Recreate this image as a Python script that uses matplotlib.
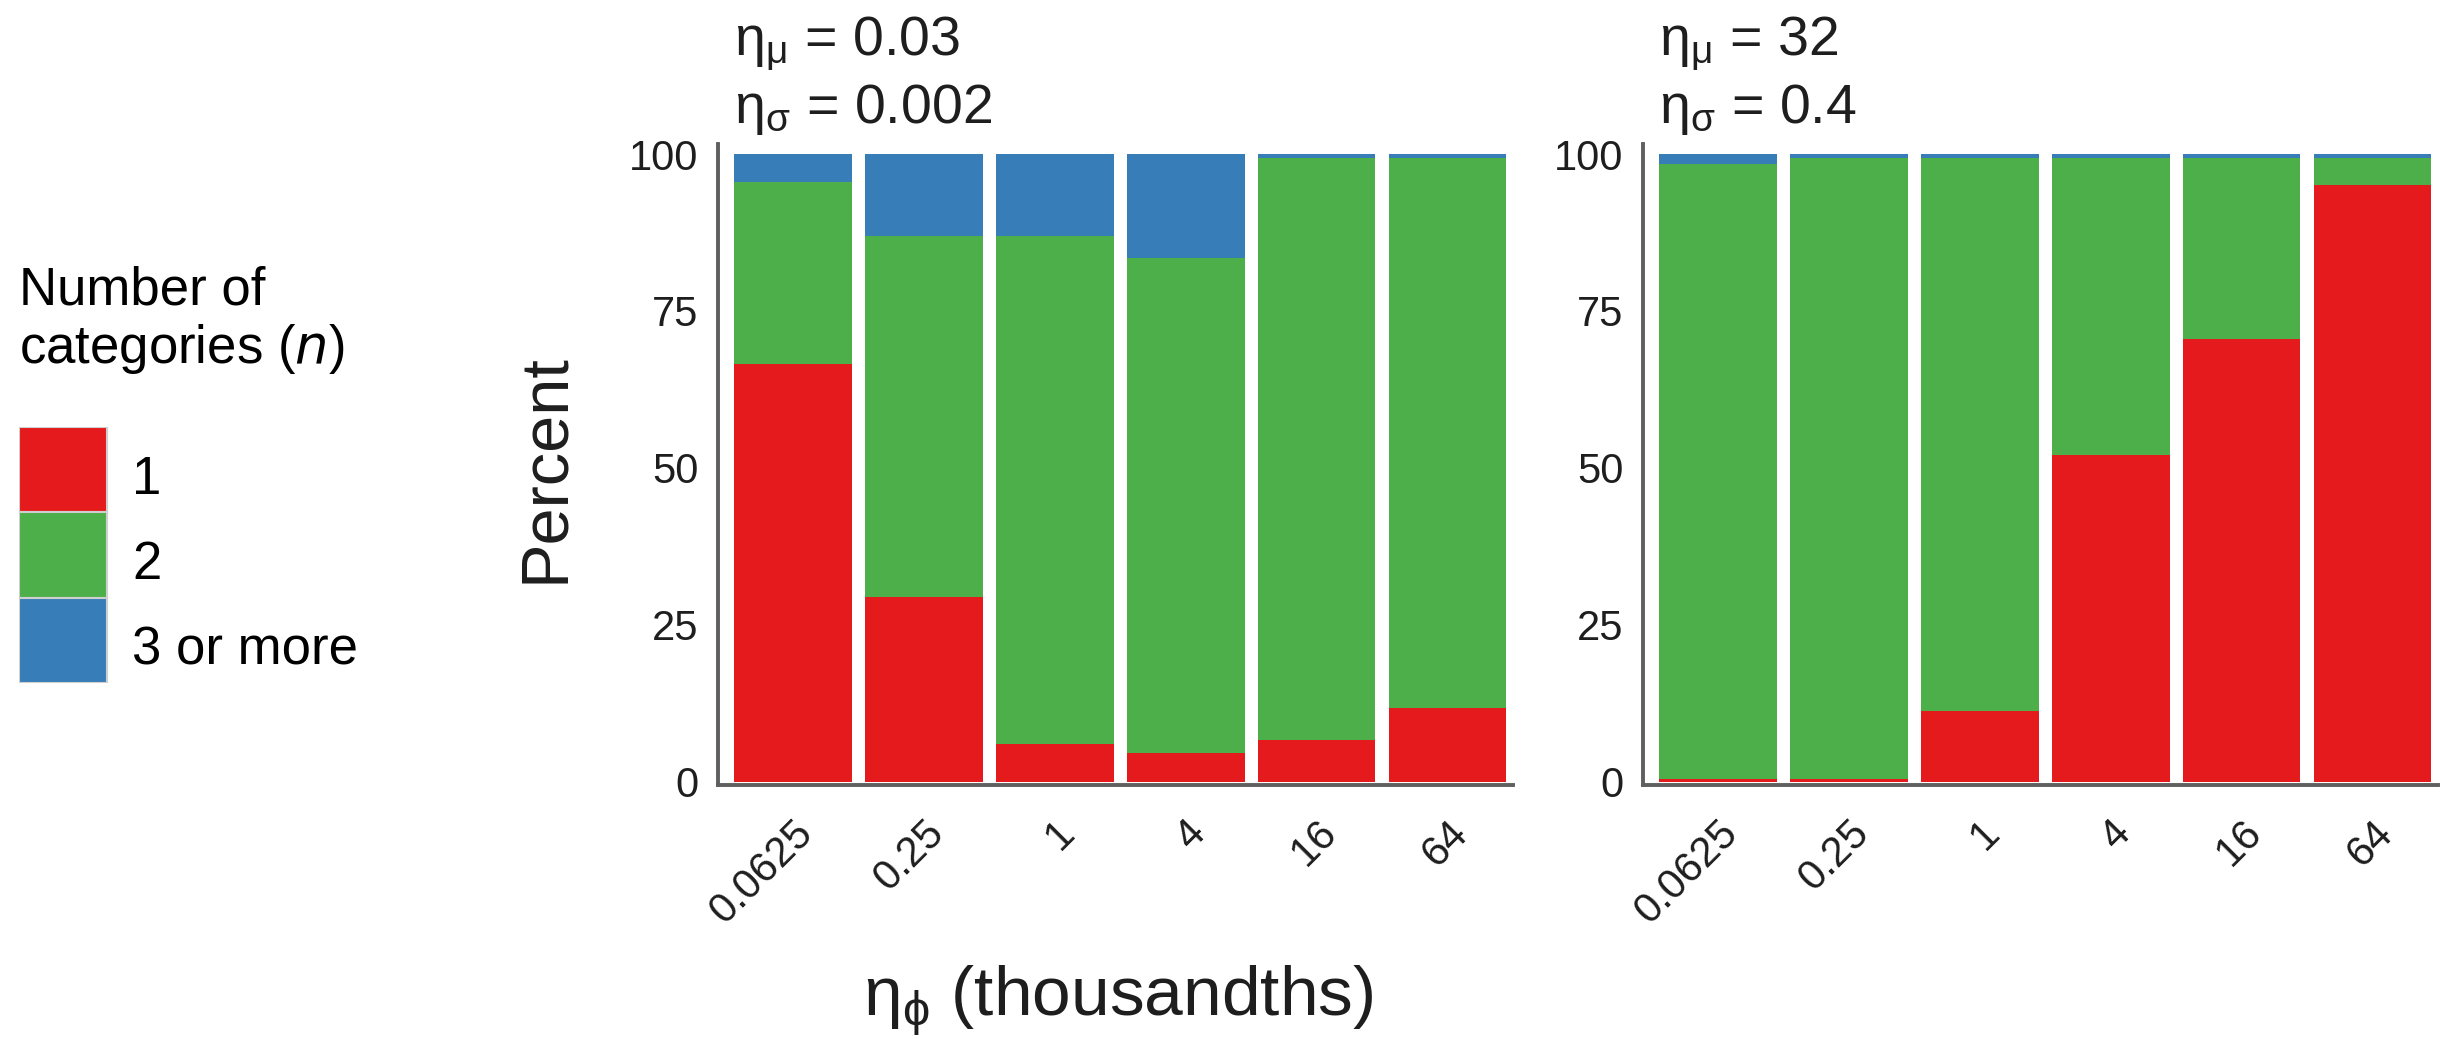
import numpy as np
import matplotlib
matplotlib.use("Agg")
import matplotlib.pyplot as plt
from matplotlib.patches import Rectangle
import matplotlib.transforms as mtransforms

plt.rcParams['font.family'] = ['Liberation Sans', 'DejaVu Sans']
plt.rcParams['mathtext.default'] = 'regular'

# ---- data ----
eta_phi = ["0.0625", "0.25", "1", "4", "16", "64"]
categories = ["1", "2", "3 or more"]
colors = ["#E41A1C", "#4DAF4A", "#377EB8"]

# panel A: eta_mu = 0.03, eta_sigma = 0.002
a_one = [66.5, 29.4, 6.0, 4.6, 6.6, 11.7]
a_two = [29.0, 57.6, 81.0, 78.9, 92.75, 87.65]
a_three = [4.5, 13.0, 13.0, 16.5, 0.65, 0.65]

# panel B: eta_mu = 32, eta_sigma = 0.4
b_one = [0.5, 0.5, 11.3, 52.0, 70.5, 95.0]
b_two = [97.9, 98.85, 88.05, 47.35, 28.85, 4.35]
b_three = [1.6, 0.65, 0.65, 0.65, 0.65, 0.65]

titles = [(r"$\eta_{\mu}$ = 0.03", r"$\eta_{\sigma}$ = 0.002"),
          (r"$\eta_{\mu}$ = 32", r"$\eta_{\sigma}$ = 0.4")]

W, H = 2453, 1039
fig = plt.figure(figsize=(W / 100, H / 100), dpi=100)


def fx(px):
    return px / W


def fy(py):
    return 1 - py / H


ax_top, ax_bot = 144, 785
panels = [(718, [a_one, a_two, a_three]), (1643, [b_one, b_two, b_three])]
spine_col = "#5f5f5f"
text_col = "#1e1e1e"

for (left_px, stacks), (t1, t2) in zip(panels, titles):
    ax = fig.add_axes([fx(left_px), fy(ax_bot), 795 / W, (ax_bot - ax_top) / H])
    x = np.arange(len(eta_phi))
    bottom = np.zeros(len(eta_phi))
    for vals, c in zip(stacks, colors):
        ax.bar(x, vals, width=0.9, bottom=bottom, color=c, linewidth=0)
        bottom += np.array(vals)
    ax.set_xlim(-0.57, 5.5)
    ax.set_ylim(-0.5, 101.6)
    ax.set_yticks([0, 25, 50, 75, 100])
    ax.set_xticks(x)
    ax.set_xticklabels(eta_phi, rotation=45, ha="right", va="top",
                       rotation_mode="anchor")
    offset = mtransforms.ScaledTranslation(12 / 72, 0, fig.dpi_scale_trans)
    for lbl in ax.get_xticklabels():
        lbl.set_transform(lbl.get_transform() + offset)
    ax.tick_params(axis="both", length=0, labelsize=30, colors=text_col)
    ax.tick_params(axis="y", pad=14)
    ax.tick_params(axis="x", pad=20)
    for s in ["top", "right"]:
        ax.spines[s].set_visible(False)
    for s in ["left", "bottom"]:
        ax.spines[s].set_color(spine_col)
        ax.spines[s].set_linewidth(2.8)
    ax.set_facecolor("none")

    # two-line panel heading, left edge on the first bar
    tx = mtransforms.blended_transform_factory(ax.transData, fig.transFigure)
    ax.text(-0.45, fy(55), t1, transform=tx, fontsize=40, color=text_col,
            va="baseline", ha="left")
    ax.text(-0.45, fy(123), t2, transform=tx, fontsize=40, color=text_col,
            va="baseline", ha="left")

fig.text(fx(546), fy(468), "Percent", rotation=90, fontsize=48,
         color=text_col, ha="center", va="center")
fig.text(fx(1118), fy(1001), r"$\eta_{\phi}$ (thousandths)", fontsize=50,
         color=text_col, ha="center", va="center")

# legend drawn by hand
fig.text(fx(19), fy(363), "Number of\ncategories ($\\mathit{n}$)", fontsize=38,
         color="black", ha="left", va="baseline", linespacing=1.15)
ax_leg = fig.add_axes([fx(19), fy(683), 400 / W, (683 - 427) / H])
ax_leg.set_axis_off()
ax_leg.set_xlim(0, 400)
ax_leg.set_ylim(3, 0)
for i, (lab, c) in enumerate(zip(categories, colors)):
    ax_leg.add_patch(Rectangle((0, i), 88, 1, facecolor=c,
                               edgecolor="#cfcfcf", linewidth=1.5))
    ax_leg.text(113, i + 0.62, lab, fontsize=38, color="black",
                ha="left", va="center")

fig.savefig("out.png", dpi=100)
